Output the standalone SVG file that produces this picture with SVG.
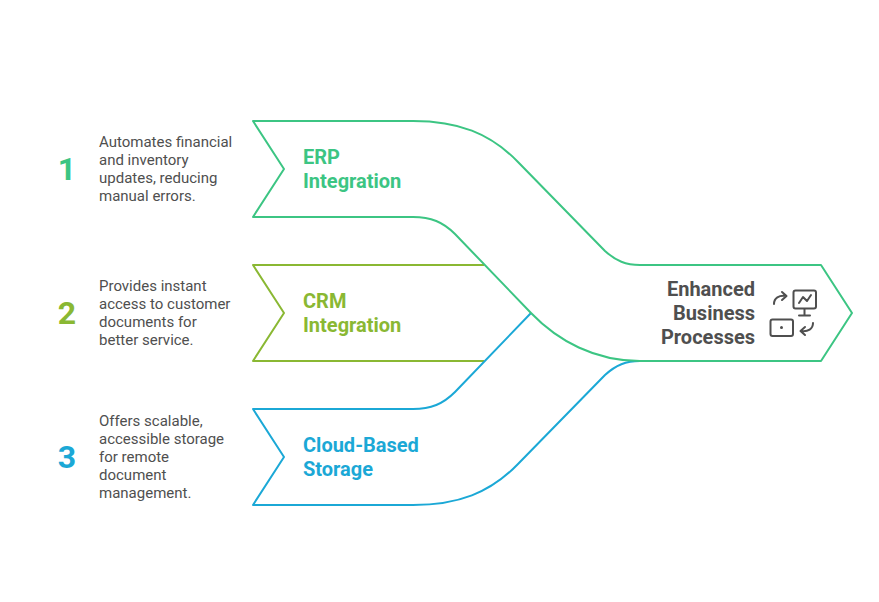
<svg xmlns="http://www.w3.org/2000/svg" width="879" height="602" viewBox="0 0 879 602">
<style>
text{font-family:Roboto,"Liberation Sans",sans-serif}
.d{font-size:15px;fill:#4f4f4f}
.t{font-size:20px;font-weight:700}
.n{font-size:32px;font-weight:700;text-anchor:middle}
.e{font-size:20px;font-weight:700;fill:#4f4f4f;text-anchor:end}
.l{fill:none;stroke-width:2;stroke-linejoin:round}
.i{fill:none;stroke:#4f4f4f;stroke-width:2;stroke-linecap:round;stroke-linejoin:round}
</style>
<rect width="879" height="602" fill="#fff"/>
<g id="connectors">
<path class="l" stroke="#8ab833" d="M484,265H253L284,313L253,361H484"/>
<path class="l" stroke="#1ba8d6" d="M531,313L455,392C443,404 431,409 413,409H253L284,457L253,505H413C458,505 490,493 518,464L605,375C616,365 626,361 640,361H680"/>
<path class="l" stroke="#3cc583" d="M253,121H413C458,121 490,133 518,162L605,251C616,261 626,265 640,265H821L852,313L821,361H640C595,361 558,341 531,313L455,234C443,222 431,217 413,217H253L284,169Z"/>
</g>
<g id="node-1">
<text class="n" x="67" y="180" fill="#3cc583">1</text>
<text class="d"><tspan x="99" y="147">Automates financial</tspan><tspan x="99" y="165">and inventory</tspan><tspan x="99" y="183">updates, reducing</tspan><tspan x="99" y="201">manual errors.</tspan></text>
<text class="t" fill="#3cc583"><tspan x="303" y="164">ERP</tspan><tspan x="303" y="188">Integration</tspan></text>
</g>
<g id="node-2">
<text class="n" x="67" y="324" fill="#8ab833">2</text>
<text class="d"><tspan x="99" y="291">Provides instant</tspan><tspan x="99" y="309">access to customer</tspan><tspan x="99" y="327">documents for</tspan><tspan x="99" y="345">better service.</tspan></text>
<text class="t" fill="#8ab833"><tspan x="303" y="308">CRM</tspan><tspan x="303" y="332">Integration</tspan></text>
</g>
<g id="node-3">
<text class="n" x="67" y="468" fill="#1ba8d6">3</text>
<text class="d"><tspan x="99" y="426">Offers scalable,</tspan><tspan x="99" y="444">accessible storage</tspan><tspan x="99" y="462">for remote</tspan><tspan x="99" y="480">document</tspan><tspan x="99" y="498">management.</tspan></text>
<text class="t" fill="#1ba8d6"><tspan x="303" y="452">Cloud-Based</tspan><tspan x="303" y="476">Storage</tspan></text>
</g>
<g id="node-result">
<text class="e"><tspan x="755" y="296">Enhanced</tspan><tspan x="755" y="320">Business</tspan><tspan x="755" y="344">Processes</tspan></text>
<g id="icon">
<rect class="i" x="793.500" y="290.500" width="22.500" height="18" rx="2"/>
<path class="i" d="M799,303L803,297L807,301L811,295M804.500,309V315M799,315.500H810"/>
<rect class="i" x="770.500" y="319.500" width="22.500" height="16.500" rx="2"/>
<circle cx="781.500" cy="327.500" r="1.500" fill="#4f4f4f"/>
<path class="i" d="M774,304C774,298 779,295 786,296M782,292L786.500,296L782,300"/>
<path class="i" d="M813,323C813,329 808,332 801,331M805,327L800.500,331L805,335"/>
</g>
</g>
</svg>
